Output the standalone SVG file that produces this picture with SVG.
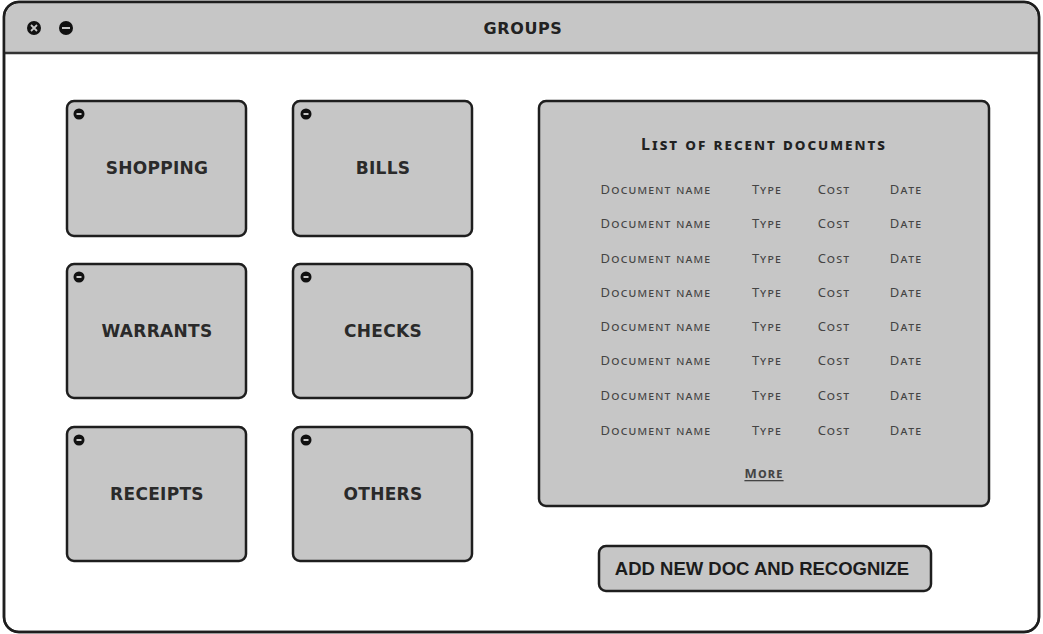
<svg xmlns="http://www.w3.org/2000/svg" width="1043" height="634" viewBox="0 0 1043 634">
  <style>
    .frame { fill: #ffffff; stroke: #1e1e1e; stroke-width: 2.5; }
    .bar { fill: #c6c6c6; }
    .card { fill: #c6c6c6; stroke: #1e1e1e; stroke-width: 2.5; }
    .dot { fill: #111111; }
    .dash { stroke: #c6c6c6; stroke-width: 2; }
    .label { font-family: "DejaVu Sans", "Noto Sans", sans-serif; font-weight: 700; font-size: 17px; letter-spacing: 0.3px; fill: #2a2a2a; text-anchor: middle; dominant-baseline: central; }
    .title { font-family: "DejaVu Sans", "Noto Sans", sans-serif; font-weight: 700; font-size: 16px; letter-spacing: 0.6px; fill: #222; text-anchor: middle; dominant-baseline: central; }
    .head { font-family: "Noto Sans", "DejaVu Sans", sans-serif; font-weight: 700; font-size: 16px; letter-spacing: 2px; font-variant: small-caps; fill: #222; text-anchor: middle; dominant-baseline: central; }
    .cell { font-family: "Noto Sans", "DejaVu Sans", sans-serif; font-size: 13px; letter-spacing: 1.2px; font-variant: small-caps; fill: #444; text-anchor: middle; dominant-baseline: central; }
    .btn { font-family: "Liberation Sans", Arial, sans-serif; font-weight: 700; font-size: 18.5px; fill: #1c1c1c; text-anchor: middle; dominant-baseline: central; }
  </style>
  <defs>
    <g id="remove-icon">
      <circle class="dot" cx="0" cy="0" r="5.5"/>
      <line class="dash" x1="-2.5" y1="0" x2="2.5" y2="0"/>
    </g>
  </defs>

  <!-- window -->
  <g id="window">
    <rect class="frame" x="4" y="2" width="1035" height="630" rx="15"/>
    <path class="bar" d="M5.5 52 V17 A13.5 13.5 0 0 1 19 3.5 H1024 A13.5 13.5 0 0 1 1037.5 17 V52 Z"/>
    <line x1="4" y1="53" x2="1039" y2="53" stroke="#333" stroke-width="2.5"/>
    <rect x="4" y="2" width="1035" height="630" rx="15" fill="none" stroke="#1e1e1e" stroke-width="2.5"/>
    <circle class="dot" cx="34" cy="28" r="7"/>
    <path d="M31 25 L37 31 M37 25 L31 31" stroke="#c6c6c6" stroke-width="1.8"/>
    <circle class="dot" cx="66" cy="28" r="7"/>
    <line x1="62" y1="28" x2="70" y2="28" stroke="#c6c6c6" stroke-width="2"/>
    <text class="title" x="523" y="28">GROUPS</text>
  </g>

  <!-- group cards -->
  <g id="shopping">
    <rect class="card" x="67" y="101" width="179" height="135" rx="7"/>
    <use href="#remove-icon" x="79" y="114"/>
    <text class="label" x="157" y="168">SHOPPING</text>
  </g>
  <g id="bills">
    <rect class="card" x="293" y="101" width="179" height="135" rx="7"/>
    <use href="#remove-icon" x="306" y="114"/>
    <text class="label" x="383" y="168">BILLS</text>
  </g>
  <g id="warrants">
    <rect class="card" x="67" y="264" width="179" height="134" rx="7"/>
    <use href="#remove-icon" x="79" y="277"/>
    <text class="label" x="157" y="331">WARRANTS</text>
  </g>
  <g id="checks">
    <rect class="card" x="293" y="264" width="179" height="134" rx="7"/>
    <use href="#remove-icon" x="306" y="277"/>
    <text class="label" x="383" y="331">CHECKS</text>
  </g>
  <g id="receipts">
    <rect class="card" x="67" y="427" width="179" height="134" rx="7"/>
    <use href="#remove-icon" x="79" y="440"/>
    <text class="label" x="157" y="494">RECEIPTS</text>
  </g>
  <g id="others">
    <rect class="card" x="293" y="427" width="179" height="134" rx="7"/>
    <use href="#remove-icon" x="306" y="440"/>
    <text class="label" x="383" y="494">OTHERS</text>
  </g>

  <!-- recent documents panel -->
  <g id="recent-documents">
    <rect class="card" x="539" y="101" width="450" height="405" rx="7"/>
    <text class="head" x="764" y="144">List of recent documents</text>
    <g id="rows">
      <text class="cell" x="656" y="189">Document name</text><text class="cell" x="767" y="189">Type</text><text class="cell" x="834" y="189">Cost</text><text class="cell" x="906" y="189">Date</text>
      <text class="cell" x="656" y="223">Document name</text><text class="cell" x="767" y="223">Type</text><text class="cell" x="834" y="223">Cost</text><text class="cell" x="906" y="223">Date</text>
      <text class="cell" x="656" y="258">Document name</text><text class="cell" x="767" y="258">Type</text><text class="cell" x="834" y="258">Cost</text><text class="cell" x="906" y="258">Date</text>
      <text class="cell" x="656" y="292">Document name</text><text class="cell" x="767" y="292">Type</text><text class="cell" x="834" y="292">Cost</text><text class="cell" x="906" y="292">Date</text>
      <text class="cell" x="656" y="326">Document name</text><text class="cell" x="767" y="326">Type</text><text class="cell" x="834" y="326">Cost</text><text class="cell" x="906" y="326">Date</text>
      <text class="cell" x="656" y="360">Document name</text><text class="cell" x="767" y="360">Type</text><text class="cell" x="834" y="360">Cost</text><text class="cell" x="906" y="360">Date</text>
      <text class="cell" x="656" y="395">Document name</text><text class="cell" x="767" y="395">Type</text><text class="cell" x="834" y="395">Cost</text><text class="cell" x="906" y="395">Date</text>
      <text class="cell" x="656" y="430">Document name</text><text class="cell" x="767" y="430">Type</text><text class="cell" x="834" y="430">Cost</text><text class="cell" x="906" y="430">Date</text>
    </g>
    <text class="cell" x="764" y="473" text-decoration="underline" font-weight="700">More</text>
  </g>

  <!-- action button -->
  <g id="add-button">
    <rect class="card" x="599" y="546" width="332" height="45" rx="7"/>
    <text class="btn" x="762" y="568">ADD NEW DOC AND RECOGNIZE</text>
  </g>

  <g id="connectors"/>
</svg>
